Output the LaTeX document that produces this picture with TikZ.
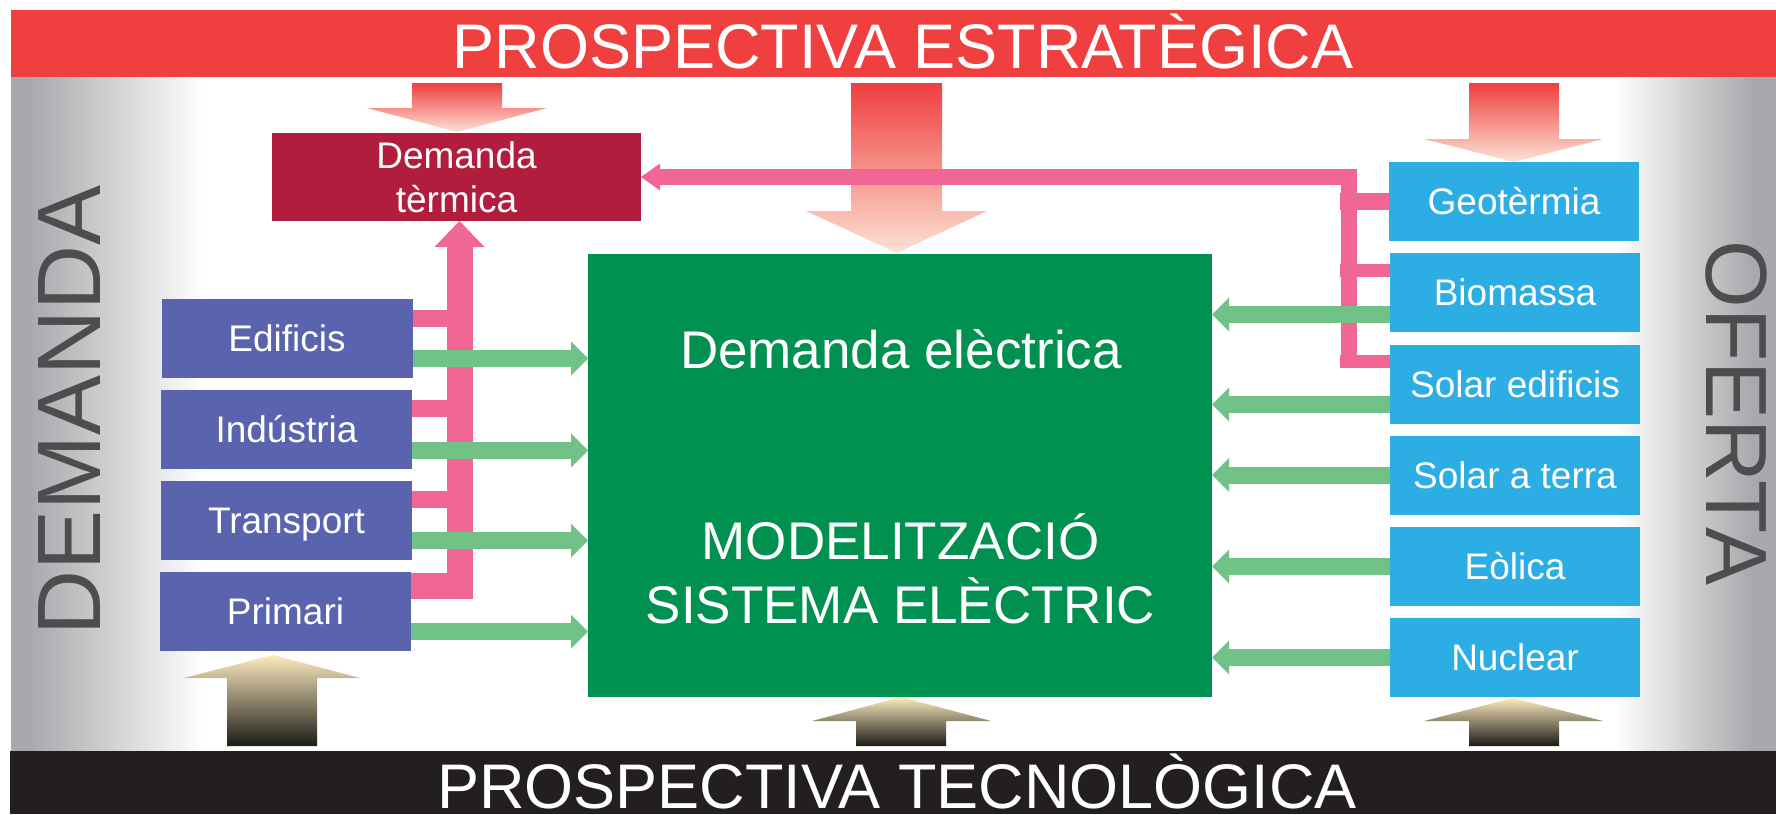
\documentclass[tikz,border=0pt]{standalone}
\usepackage{fontspec}
\setmainfont{Liberation Sans}
\usetikzlibrary{arrows.meta}
\definecolor{bandred}{HTML}{EF3F3F}
\definecolor{bandblack}{HTML}{231F20}
\definecolor{panelgray}{HTML}{A7A9AC}
\definecolor{sidetext}{HTML}{4D4D4F}
\definecolor{thermred}{HTML}{B21C3D}
\definecolor{demblue}{HTML}{5A63AD}
\definecolor{boxgreen}{HTML}{009150}
\definecolor{arrgreen}{HTML}{70C286}
\definecolor{supblue}{HTML}{2CAEE4}
\definecolor{pinkline}{HTML}{F06695}
\definecolor{peach}{HTML}{FDE2D4}
\definecolor{paleyellow}{HTML}{FCEBBD}
\definecolor{tanmid}{HTML}{D2C39B}
\definecolor{darkend}{HTML}{1C1A17}
\begin{document}
\begin{tikzpicture}[x=1pt,y=-1pt,
  box/.style={inner sep=0pt, outer sep=0pt, text=white, font=\fontsize{37}{44}\selectfont},
  pbox/.style={box, fill=demblue, minimum width=251pt, minimum height=79pt, text height=26pt, text depth=0pt},
  bbox/.style={box, fill=supblue, minimum width=250pt, minimum height=79pt, text height=26pt, text depth=0pt},
  bandtext/.style={text=white, inner sep=0pt, anchor=base, font=\fontsize{63}{63}\selectfont},
  sidelabel/.style={text=sidetext, inner sep=0pt, anchor=base},
  bigtext/.style={text=white, inner sep=0pt, anchor=base, font=\fontsize{53}{53}\selectfont},
  garrow/.style={draw=arrgreen, line width=17pt, -{Triangle[width=34pt,length=17pt,line width=0pt]}},
  pinkbar/.style={draw=pinkline, line width=#1},
  downshade/.style={top color=bandred, bottom color=peach},
  upshade/.style={top color=paleyellow, middle color=tanmid, bottom color=darkend}
]
\fill[white] (0,0) rectangle (1776,814);
\useasboundingbox (0,0) rectangle (1776,814);
% side panels
\fill[panelgray] (11,77) rectangle (30,751);
\shade[left color=panelgray, right color=white] (29.5,77) rectangle (205,751);
\shade[left color=white, right color=panelgray] (1615,77) rectangle (1752,751);
\fill[panelgray] (1751.5,77) rectangle (1776,751);
% bands
\fill[bandred] (11,10) rectangle (1776,77);
\fill[bandblack] (10,751) rectangle (1776,814);
\node[bandtext] (toptitle) at (903,68) {PROSPECTIVA ESTRATÈGICA};
\node[bandtext] (bottitle) at (897,808) {PROSPECTIVA TECNOLÒGICA};
\node[sidelabel, rotate=90, font=\fontsize{90}{90}\selectfont] (demlab) at (100,410) {DEMANDA};
\node[sidelabel, rotate=-90, font=\fontsize{87}{87}\selectfont] (oflab) at (1706,413) {OFERTA};
% top gradient arrows
\shade[downshade] (412,83) -- (502,83) -- (502,108) -- (547,108) -- (457,132) -- (367,108) -- (412,108) -- cycle;
\shade[downshade] (851,83) -- (942,83) -- (942,211) -- (987,211) -- (897,253) -- (806,211) -- (851,211) -- cycle;
\shade[downshade] (1469,83) -- (1559,83) -- (1559,139) -- (1603,139) -- (1514,162) -- (1424,139) -- (1469,139) -- cycle;
% bottom gradient arrows
\shade[upshade] (227,746) -- (317,746) -- (317,678) -- (360,678) -- (273,655) -- (184,678) -- (227,678) -- cycle;
\shade[upshade] (856,746) -- (946,746) -- (946,721) -- (991,721) -- (901,697) -- (812,721) -- (856,721) -- cycle;
\shade[upshade] (1469,746) -- (1559,746) -- (1559,721) -- (1603,721) -- (1513,698) -- (1424,721) -- (1469,721) -- cycle;
% boxes
\node[box, fill=thermred, minimum width=369pt, minimum height=88pt, align=center] (dt) at (456.5,177) {Demanda\\tèrmica};
\node[pbox] (edif) at (287,338.5) {Edificis};
\node[pbox] (indu) at (286.5,429.5) {Indústria};
\node[pbox] (trans) at (286.5,520.5) {Transport};
\node[pbox] (prim) at (285.5,611.5) {Primari};
\node[bbox] (geo) at (1514,201.5) {Geotèrmia};
\node[bbox] (bio) at (1515,292.5) {Biomassa};
\node[bbox] (sole) at (1515,384.5) {Solar edificis};
\node[bbox] (solt) at (1515,475) {Solar a terra};
\node[bbox] (eol) at (1515,566.5) {Eòlica};
\node[bbox] (nuc) at (1515,657.5) {Nuclear};
\node[fill=boxgreen, inner sep=0pt, outer sep=0pt, minimum width=624pt, minimum height=443pt] (gbox) at (900,475.5) {};
\node[bigtext] (deml) at (901,368) {Demanda elèctrica};
\node[bigtext] (model) at (900.5,559) {MODELITZACIÓ};
\node[bigtext] (sist) at (900.5,623) {SISTEMA ELÈCTRIC};
% pink lines, left
\coordinate (busbot) at (459.5,599);
\draw[pinkbar=26pt, -{Triangle[width=50pt,length=26pt,line width=0pt]}] (busbot) -- (busbot |- dt.south);
\draw[pinkbar=17pt] ([yshift=20pt]edif.east) -- ++(40,0);
\draw[pinkbar=17pt] ([yshift=21pt]indu.east) -- ++(40,0);
\draw[pinkbar=17pt] ([yshift=21pt]trans.east) -- ++(40,0);
\draw[pinkbar=26pt] ([yshift=25.5pt]prim.east) -- ++(61.5,0);
% pink lines, right
\coordinate (rbus) at (1349,368);
\draw[pinkbar=16.5pt, line join=miter, -{Triangle[width=27pt,length=19pt,line width=0pt]}] (rbus) -- (rbus |- dt.east) -- (dt.east);
\draw[pinkbar=17pt] (geo.west) -- ++(-49,0);
\draw[pinkbar=13pt] ([yshift=22pt]bio.west) -- ++(-50,0);
\draw[pinkbar=13pt] ([yshift=23pt]sole.west) -- ++(-50,0);
% green arrows, left
\coordinate (ea) at ([yshift=-20pt]edif.east);
\coordinate (ia) at ([yshift=-21pt]indu.east);
\coordinate (ta) at ([yshift=-20pt]trans.east);
\coordinate (pa) at ([yshift=-20pt]prim.east);
\draw[garrow] (ea) -- (ea -| gbox.west);
\draw[garrow] (ia) -- (ia -| gbox.west);
\draw[garrow] (ta) -- (ta -| gbox.west);
\draw[garrow] (pa) -- (pa -| gbox.west);
% green arrows, right
\coordinate (ba) at ([yshift=-22pt]bio.west);
\coordinate (sa) at ([yshift=-20pt]sole.west);
\draw[garrow] (ba) -- (ba -| gbox.east);
\draw[garrow] (sa) -- (sa -| gbox.east);
\draw[garrow] (solt.west) -- (solt.west -| gbox.east);
\draw[garrow] (eol.west) -- (eol.west -| gbox.east);
\draw[garrow] (nuc.west) -- (nuc.west -| gbox.east);
\end{tikzpicture}
\end{document}
